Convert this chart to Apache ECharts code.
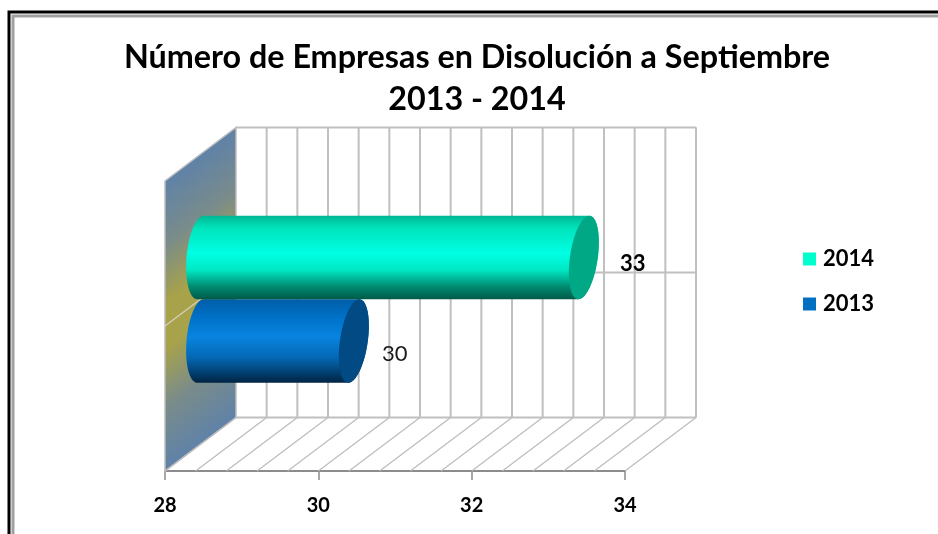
<!DOCTYPE html>
<html><head><meta charset="utf-8">
<style>html,body{margin:0;padding:0;background:#fff}#c{width:938px;height:534px}</style>
<script src="https://cdn.jsdelivr.net/npm/echarts@6/dist/echarts.min.js"></script>
</head><body><div id="c"></div>
<script>
const titleLines = ['Número de Empresas en Disolución a Septiembre', '2013 - 2014'];
const categories = ['Septiembre'];
const seriesNames = ['2014', '2013'];
const values2014 = [33];
const values2013 = [30];
const gridValues = [28, 28.4, 28.8, 29.2, 29.6, 30, 30.4, 30.8, 31.2, 31.6, 32, 32.4, 32.8, 33.2, 33.6, 34];
const xMin = 28, xMax = 34, xInterval = 2;

const DX = 71, DY = -53.5;      // 3D depth projection
const THICK = 0.288;            // cylinder thickness as share of band
const RX = 14;
const FONT = 'Lato';

const chart = echarts.init(document.getElementById('c'), null, {renderer: 'canvas'});

function line(p, q, color, width) {
  return {type: 'line', shape: {x1: p[0], y1: p[1], x2: q[0], y2: q[1]},
          style: {stroke: color, lineWidth: width}};
}
function renderWalls(params, api) {
  if (params.dataIndex !== 0) return;
  const band = api.size([0, 1])[1];
  const mid = api.coord([xMin, 0]);
  const ftl = [mid[0], mid[1] - band / 2], fbl = [mid[0], mid[1] + band / 2];
  const fbr = [api.coord([xMax, 0])[0], fbl[1]];
  const b = p => [p[0] + DX, p[1] + DY];
  const btl = b(ftl), bbl = b(fbl), bbr = b(fbr), btr = [bbr[0], btl[1]];
  const cx = (ftl[0] + btl[0]) / 2, cy = (ftl[1] + fbl[1] + DY) / 2;
  const h = 116;
  const grad = new echarts.graphic.LinearGradient(cx - 0.6 * h, cy - 0.8 * h, cx + 0.6 * h, cy + 0.8 * h,
    [{offset: 0, color: '#5f82a8'}, {offset: 0.22, color: '#7a8c8a'}, {offset: 0.42, color: '#a8a24a'},
     {offset: 0.58, color: '#a8a24a'}, {offset: 0.78, color: '#7a8c8a'}, {offset: 1, color: '#5f82a8'}], true);
  const grey = '#c0c0c0';
  const children = [
    {type: 'polygon', shape: {points: [ftl, btl, bbl, fbl]}, style: {fill: grad, stroke: '#bdbdbd', lineWidth: 1.5}},
    line(btl, btr, grey, 2), line(btr, bbr, grey, 2), line(bbl, bbr, grey, 2),
    line(mid, b(mid), '#cfcfb8', 1.5),
    line(b(mid), [bbr[0], b(mid)[1]], grey, 2)
  ];
  return {type: 'group', children};
}
function renderGrid(params, api) {
  const v = api.value(0);
  const band = api.size([0, 1])[1];
  const c = api.coord([v, 0]);
  const f = [c[0], c[1] + band / 2];
  const bk = [f[0] + DX, f[1] + DY];
  const top = [bk[0], bk[1] - band];
  const children = [line(f, bk, '#bcbcbc', 1.2)];
  if (v !== xMin) children.push(line(bk, top, '#c0c0c0', 2));
  return {type: 'group', children};
}
function ellipsePts(cx, cy, ry, shear, from, to) {
  const pts = [];
  for (let i = 0; i <= 40; i++) {
    const t = from + (to - from) * i / 40;
    pts.push([cx + RX * Math.cos(t) - shear * Math.sin(t), cy + ry * Math.sin(t)]);
  }
  return pts;
}
function cylinder(side, stops, capColor, labelStyle) {
  return function (params, api) {
    const v = api.value(0);
    const band = api.size([0, 1])[1];
    const th = band * THICK;
    const c0 = api.coord([xMin, 0]), c1 = api.coord([v, 0]);
    const cy = c0[1] + side * th / 2 + DY / 2;
    const x0 = c0[0] + DX / 2, x1 = c1[0] + DX / 2;
    const ry = th / 2, shear = 5.5;
    const body = ellipsePts(x0, cy, ry, shear * 0.6, -Math.PI / 2, -3 * Math.PI / 2)
      .concat(ellipsePts(x1, cy, ry, shear, Math.PI / 2, -Math.PI / 2));
    const grad = new echarts.graphic.LinearGradient(0, 0, 0, 1, stops);
    return {type: 'group', children: [
      {type: 'polygon', shape: {points: body}, style: {fill: grad}},
      {type: 'polygon', shape: {points: ellipsePts(x1, cy, ry, shear, 0, Math.PI * 2)}, style: {fill: capColor}},
      {type: 'text', style: {text: String(v), x: x1 + labelStyle.dx, y: cy + labelStyle.dy, align: 'center',
        verticalAlign: 'middle', font: labelStyle.weight + ' 22px ' + FONT, fill: labelStyle.color}}
    ]};
  };
}
const frame = (shape, color) => ({type: 'polyline', silent: true, shape: {points: shape},
  style: {stroke: color, lineWidth: 3, fill: null}});

chart.setOption({
  animation: false,
  backgroundColor: '#ffffff',
  title: {
    text: titleLines.join('\n'), left: 472, top: 32, textAlign: 'center',
    textStyle: {fontFamily: FONT, fontWeight: 'bold', fontSize: 32.3, lineHeight: 42, color: '#000'}
  },
  legend: {
    data: seriesNames, orient: 'vertical', left: 798, top: 243, itemWidth: 13, itemHeight: 13, itemGap: 23,
    selectedMode: false, icon: 'rect',
    textStyle: {fontFamily: FONT, fontWeight: 'bold', fontSize: 22, color: '#000', padding: [0, 0, 0, 2]}
  },
  grid: {left: 165, top: 181, width: 460, height: 290},
  xAxis: {
    type: 'value', min: xMin, max: xMax, interval: xInterval,
    axisLine: {show: true, onZero: false, lineStyle: {color: '#8c8c8c', width: 2}},
    axisTick: {show: true, length: 9, lineStyle: {color: '#8c8c8c', width: 1.5}},
    splitLine: {show: false},
    axisLabel: {margin: 25, fontFamily: FONT, fontWeight: 'bold', fontSize: 20, color: '#000'}
  },
  yAxis: {type: 'category', data: categories, show: false},
  series: [
    {type: 'custom', name: 'walls', silent: true, z: 1, renderItem: renderWalls,
     encode: {x: 0}, data: gridValues.slice(0, 1).map(v => [v])},
    {type: 'custom', name: 'grid', silent: true, z: 2, renderItem: renderGrid,
     encode: {x: 0}, data: gridValues.map(v => [v])},
    {type: 'custom', name: seriesNames[1], z: 3, itemStyle: {color: '#0070c0'}, encode: {x: 0},
     renderItem: cylinder(1, [
       {offset: 0, color: '#005ea8'}, {offset: 0.25, color: '#0074cc'}, {offset: 0.45, color: '#0884e0'},
       {offset: 0.7, color: '#0468b4'}, {offset: 0.88, color: '#023f70'}, {offset: 1, color: '#002443'}],
       '#014a84', {dx: 41, dy: 13, weight: 'normal', color: '#1a1a1a'}),
     data: values2013.map(v => [v])},
    {type: 'custom', name: seriesNames[0], z: 4, itemStyle: {color: '#00ffcc'}, encode: {x: 0},
     renderItem: cylinder(-1, [
       {offset: 0, color: '#00b895'}, {offset: 0.15, color: '#00e4bc'}, {offset: 0.45, color: '#00ffe4'},
       {offset: 0.65, color: '#00e8c4'}, {offset: 0.85, color: '#008a70'}, {offset: 1, color: '#005a48'}],
       '#00a886', {dx: 49, dy: 6, weight: 'bold', color: '#000'}),
     data: values2014.map(v => [v])}
  ],
  graphic: [
    frame([[9, 534], [9, 12], [938, 12]], '#000000'),
    frame([[13, 534], [13, 16], [938, 16]], '#a0a0a0')
  ]
});
</script></body></html>
